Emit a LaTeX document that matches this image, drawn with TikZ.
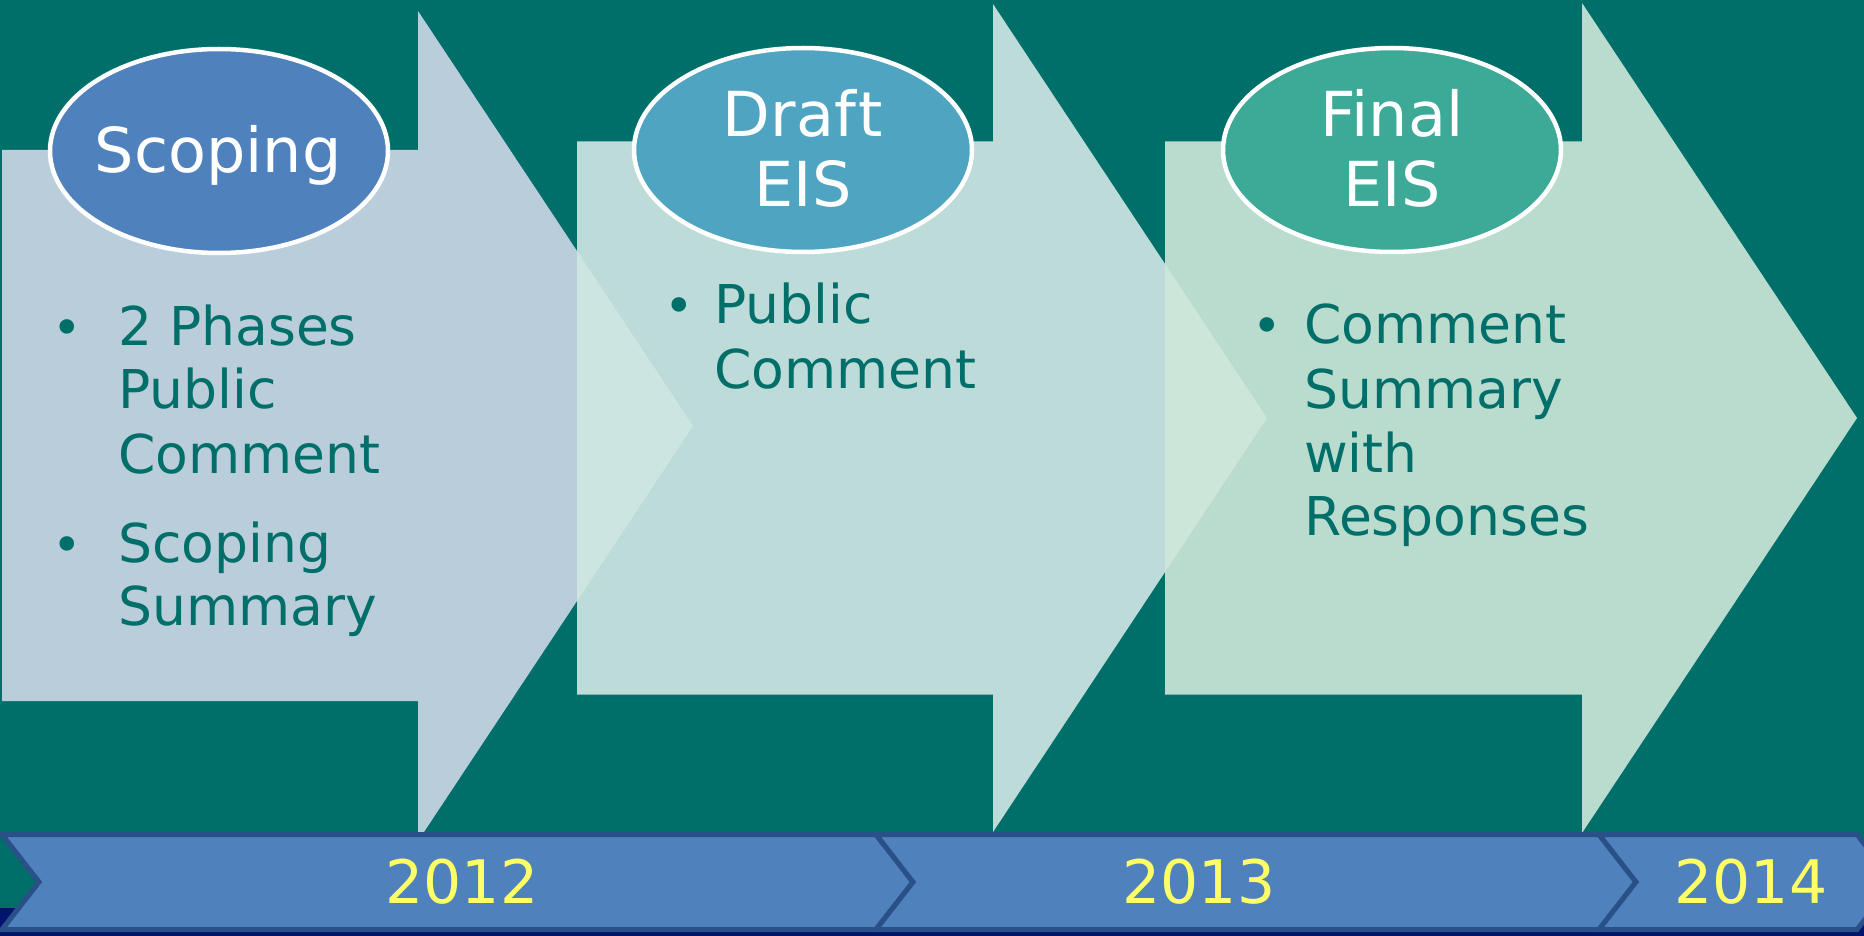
\documentclass[tikz,border=0pt]{standalone}
\usepackage{fontspec}
\setmainfont[Ligatures=NoCommon]{DejaVu Sans}
\usetikzlibrary{shapes.geometric}
\definecolor{bgteal}{HTML}{006F6A}
\definecolor{navy}{HTML}{00146E}
\definecolor{arrA}{HTML}{B9CDDA}
\definecolor{arrB}{HTML}{BCDBD9}
\definecolor{arrC}{HTML}{BADCCE}
\definecolor{ovAB}{HTML}{CDE5E1}
\definecolor{ovBC}{HTML}{CCE6DA}
\definecolor{ellA}{HTML}{4F81BD}
\definecolor{ellB}{HTML}{4FA5C1}
\definecolor{ellC}{HTML}{3CAA96}
\definecolor{txtteal}{HTML}{006F6A}
\definecolor{barfill}{HTML}{4F81BD}
\definecolor{barline}{HTML}{2A5088}
\definecolor{yeartxt}{HTML}{FFFF66}
\begin{document}
\begin{tikzpicture}[x=1pt,y=-1pt,
  ell/.style={ellipse, draw=white, line width=4.5pt, inner sep=0pt,
    minimum width=338pt, minimum height=204pt},
  title/.style={inner sep=0pt, anchor=base, text=white,
    font=\fontsize{62}{70}\selectfont},
  item/.style={inner sep=0pt, anchor=base west, text=txtteal,
    font=\fontsize{53.5}{64}\selectfont},
  dot/.style={inner sep=0pt, anchor=base, text=txtteal,
    font=\fontsize{50}{64}\selectfont},
  chev/.style={fill=barfill, draw=barline, line width=5pt, line join=miter},
  year/.style={inner sep=0pt, anchor=base, text=yeartxt,
    font=\fontsize{60}{64}\selectfont}]
\useasboundingbox (0,0) rectangle (1864,936);
\clip (0,0) rectangle (1864,936);
\fill[bgteal] (0,0) rectangle (1864,936);
\fill[navy] (0,908) rectangle (1864,936);

% big arrows
\def\arrowA{(2,150) -- (418,150) -- (418,11) -- (693,426) -- (418,841) -- (418,701) -- (2,701) -- cycle}
\def\arrowB{(577,141.5) -- (993,141.5) -- (993,4) -- (1267,418) -- (993,832) -- (993,694.5) -- (577,694.5) -- cycle}
\def\arrowC{(1165,141.5) -- (1582,141.5) -- (1582,3) -- (1857,418) -- (1582,833) -- (1582,694.5) -- (1165,694.5) -- cycle}
\fill[arrA] \arrowA;
\fill[arrB] \arrowB;
\fill[arrC] \arrowC;
\begin{scope}
  \clip \arrowB;
  \fill[ovAB] \arrowA;
\end{scope}
\begin{scope}
  \clip \arrowC;
  \fill[ovBC] \arrowB;
\end{scope}

% ellipses
\node[ell, fill=ellA] (e1) at (219,151) {};
\node[ell, fill=ellB] (e2) at (803,150) {};
\node[ell, fill=ellC] (e3) at (1392,150) {};
\node[title] (t1) at (218,173) {Scoping};
\node[title] (t2a) at (803,137) {Draf\kern3pt t};
\node[title] (t2b) at (803,207) {EIS};
\node[title] (t3a) at (1392,137) {Final};
\node[title] (t3b) at (1392,207) {EIS};

% column 1
\node[dot] (b1a) at (67,345) {•};
\node[item] (c1l1) at (118,345) {2 Phases};
\node[item] (c1l2) at (118,408) {Public};
\node[item] (c1l3) at (118,473) {Comment};
\node[dot] (b1b) at (67,562) {•};
\node[item] (c1l4) at (118,562) {Scoping};
\node[item] (c1l5) at (118,625) {Summary};

% column 2
\node[dot] (b2a) at (679,323) {•};
\node[item] (c2l1) at (714,323) {Public};
\node[item] (c2l2) at (714,388) {Comment};

% column 3
\node[dot] (b3a) at (1267,343) {•};
\node[item] (c3l1) at (1304,343) {Comment};
\node[item] (c3l2) at (1304,408) {Summary};
\node[item] (c3l3) at (1304,472) {with};
\node[item] (c3l4) at (1304,535) {Responses};

% timeline chevrons
\draw[chev] (2,834.5) -- (876,834.5) -- (913,882) -- (876,929.5) -- (2,929.5) -- (39,882) -- cycle;
\draw[chev] (876,834.5) -- (1599,834.5) -- (1636,882) -- (1599,929.5) -- (876,929.5) -- (913,882) -- cycle;
\draw[chev] (1599,834.5) -- (1857,834.5) -- (1894,882) -- (1857,929.5) -- (1599,929.5) -- (1636,882) -- cycle;
\node[year] (y1) at (462,903) {2012};
\node[year] (y2) at (1199,903) {2013};
\node[year] (y3) at (1751,903) {2014};
\end{tikzpicture}
\end{document}
